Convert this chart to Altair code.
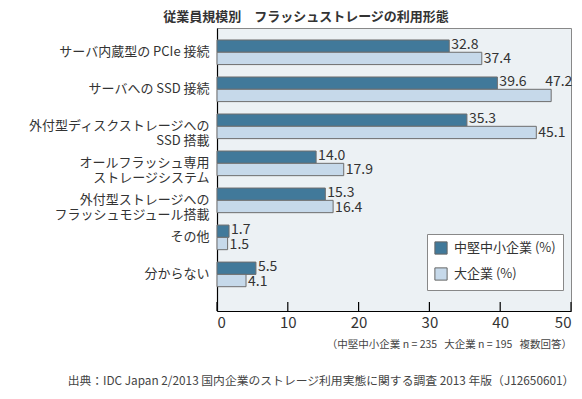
import altair as alt
import pandas as pd

categories = [
    "サーバ内蔵型の PCIe 接続",
    "サーバへの SSD 接続",
    "外付型ディスクストレージへの\nSSD 搭載",
    "オールフラッシュ専用\nストレージシステム",
    "外付型ストレージへの\nフラッシュモジュール搭載",
    "その他",
    "分からない",
]
series = ["中堅中小企業 (%)", "大企業 (%)"]
mid_values = [32.8, 39.6, 35.3, 14.0, 15.3, 1.7, 5.5]
large_values = [37.4, 47.2, 45.1, 17.9, 16.4, 1.5, 4.1]
x_ticks = [0, 10, 20, 30, 40, 50]

title_text = "従業員規模別　フラッシュストレージの利用形態"
note_text = "（中堅中小企業 n = 235\u00a0\u00a0 大企業 n = 195\u00a0\u00a0 複数回答）"
source_text = "出典：IDC Japan 2/2013 国内企業のストレージ利用実態に関する調査 2013 年版（J12650601）"

rows = []
for c, m, l in zip(categories, mid_values, large_values):
    rows.append({"category": c, "series": series[0], "value": m})
    rows.append({"category": c, "series": series[1], "value": l})
df = pd.DataFrame(rows)

FONT = "Liberation Sans Narrow, Noto Sans CJK JP"
CJK = "Noto Sans CJK JP"

yscale = alt.Scale(paddingInner=0.335, paddingOuter=0.49, align=0.33)
yenc = alt.Y("category:N", sort=categories, scale=yscale,
             axis=alt.Axis(title=None, ticks=False, domainColor="black", domainWidth=1.2,
                           labelFont=FONT, labelFontSize=13, labelColor="#333",
                           labelPadding=8, labelLineHeight=15, labelLimit=0,
                           labelExpr="split(datum.label, '\\n')"))
yoff = alt.YOffset("series:N", sort=series, scale=alt.Scale(paddingInner=0, paddingOuter=0))
xenc = alt.X("value:Q", scale=alt.Scale(domain=[0, 50], nice=False),
             axis=alt.Axis(title=None, values=x_ticks, ticks=False, grid=False,
                           domainColor="black", domainWidth=1.2,
                           labelFont=FONT, labelFontSize=15, labelColor="#333",
                           labelPadding=4))
color = alt.Color("series:N", sort=series,
                  scale=alt.Scale(domain=series, range=["#41799a", "#c6d9ea"]),
                  legend=alt.Legend(title=None, orient="none", legendX=210, legendY=206,
                                    fillColor="white", strokeColor="#888", padding=7,
                                    symbolType="square", symbolSize=150,
                                    symbolStrokeColor="#666", symbolStrokeWidth=1,
                                    labelFont=FONT, labelFontSize=13, labelColor="#333",
                                    rowPadding=8, labelOffset=6, labelLimit=0))

base = alt.Chart(df)
bars = base.mark_bar(stroke="#6e6e6e", strokeWidth=1).encode(
    y=yenc, yOffset=yoff, x=xenc, color=color)

labels_mid = base.transform_filter(alt.datum.series == series[0]).mark_text(
    align="left", baseline="middle", dx=2, dy=-1, font=FONT, fontSize=14, color="#333"
).encode(y=alt.Y("category:N", sort=categories, scale=yscale), yOffset=yoff,
         x="value:Q", text=alt.Text("value:Q", format=".1f"))

labels_large = base.transform_filter(
    (alt.datum.series == series[1]) & (alt.datum.value < 46)).mark_text(
    align="left", baseline="middle", dx=2, dy=1, font=FONT, fontSize=14, color="#333"
).encode(y=alt.Y("category:N", sort=categories, scale=yscale), yOffset=yoff,
         x="value:Q", text=alt.Text("value:Q", format=".1f"))

labels_over = base.transform_filter(
    (alt.datum.series == series[1]) & (alt.datum.value >= 46)).transform_calculate(
    row="'" + series[0] + "'").mark_text(
    align="left", baseline="middle", dx=-6, dy=-1, font=FONT, fontSize=14, color="#333"
).encode(y=alt.Y("category:N", sort=categories, scale=yscale),
         yOffset=alt.YOffset("row:N", sort=series),
         x="value:Q", text=alt.Text("value:Q", format=".1f"))

tick_df = pd.DataFrame({"tick": x_ticks})
ticks = alt.Chart(tick_df).mark_rule(color="black", strokeWidth=1.2).encode(
    x=alt.X("tick:Q"), y=alt.value(274), y2=alt.value(283))

title = alt.Chart(pd.DataFrame({"t": [title_text]})).mark_text(
    font=CJK, fontSize=13, fontWeight="bold", color="#333",
    align="center", baseline="middle").encode(
    text="t:N", x=alt.value(89), y=alt.value(-11))

note = alt.Chart(pd.DataFrame({"t": [note_text]})).mark_text(
    font=FONT, fontSize=10.5, color="#444", align="right", baseline="middle").encode(
    text="t:N", x=alt.value(355), y=alt.value(317))

source = alt.Chart(pd.DataFrame({"t": [source_text]})).mark_text(
    font=FONT, fontSize=11.8, color="#444", align="center", baseline="middle").encode(
    text="t:N", x=alt.value(104), y=alt.value(353))

chart = alt.layer(bars, labels_mid, labels_large, labels_over, ticks, title, note, source).properties(
    width=354, height=283,
    autosize=alt.AutoSizeParams(type="none"),
    padding={"left": 209, "top": 20, "right": 3, "bottom": 80},
).configure_view(fill="#ecf1f4", stroke="#888", strokeWidth=1)

chart.save("out.html", embed_options={"renderer": "svg", "actions": False})
